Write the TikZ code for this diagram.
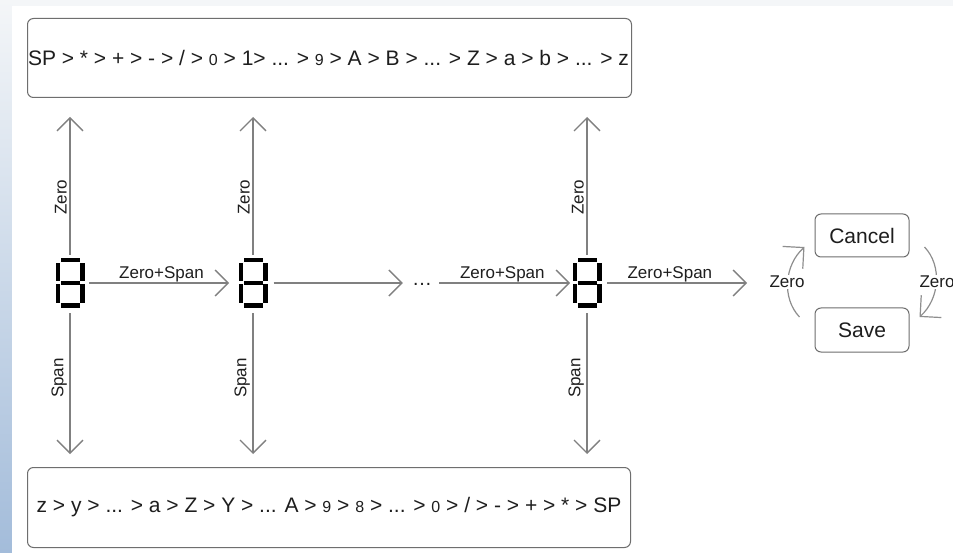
\documentclass[tikz,border=0pt]{standalone}
\usepackage{fontspec}
\setmainfont{Liberation Sans}
\usetikzlibrary{arrows.meta}
\definecolor{lc}{HTML}{808080}
\definecolor{bc}{HTML}{6E6E6E}
\definecolor{ac}{HTML}{8E8E8E}
\definecolor{tc}{HTML}{1E1E1E}
\definecolor{bgg}{HTML}{F4F6F8}
\definecolor{bgb}{HTML}{A3BCDA}
\newcommand\sdig[1]{{\fontsize{16}{16}\selectfont #1}}
\newcommand\segdigit[1]{%
  \begin{scope}[shift={(#1.north west)}]
    \fill[black] (5,0) rectangle (24,-4.5);
    \fill[black] (0,-5) rectangle (4.5,-23.5);
    \fill[black] (24.5,-5) rectangle (29,-23.5);
    \fill[black] (5,-23) rectangle (24,-27);
    \fill[black] (0,-26.5) rectangle (4.5,-45);
    \fill[black] (24.5,-26.5) rectangle (29,-45);
    \fill[black] (5,-45.5) rectangle (24,-50);
  \end{scope}}
\begin{document}
\begin{tikzpicture}[x=1pt,y=1pt,
  font=\fontsize{21}{24}\selectfont, text=tc,
  digit/.style={minimum width=29pt, minimum height=50pt, inner sep=0pt, outer sep=0pt},
  arr/.style={draw=lc, line width=1.3pt, -{Straight Barb[length=13pt,width=26pt]}},
  carr/.style={draw=ac, line width=1.2pt, -{Straight Barb[length=15pt,width=30pt]}},
  box/.style={draw=bc, line width=1pt, rounded corners=6pt, fill=white},
  lab/.style={font=\fontsize{17}{20}\selectfont, inner sep=0.5pt},
  vlab/.style={lab, rotate=90, anchor=south, inner sep=2.5pt}
]
\useasboundingbox (0,0) rectangle (953,-553);
% background
\fill[bgg] (0,0) rectangle (953,-553);
\shade[top color=bgg, bottom color=bgb] (0,0) rectangle (12,-553);
\fill[white] (12,-6) rectangle (953,-553);

% boxes
\node[box, anchor=north west, minimum height=79pt, inner xsep=0.5pt] (top) at (27,-18)
  {\makebox[603pt][l]{SP > * > + > - > / > \sdig{0} > 1> ... > \sdig{9} > A > B > ... > Z > a > b > ... > z}};
\node[box, anchor=north west, minimum height=80pt, minimum width=603pt] (bot) at (27,-467)
  {z > y > ... > a > Z > Y > ... A > \sdig{9} > \sdig{8} > ... > \sdig{0} > / > - > + > * > SP};

% digits
\node[digit] (d1) at (70,-283) {};
\node[digit] (d2) at (253,-283) {};
\node[digit] (d3) at (587,-283) {};
\segdigit{d1}
\segdigit{d2}
\segdigit{d3}
\node[inner sep=0pt, anchor=base] (dots) at (422,-286) {\fontsize{20}{20}\selectfont …};
\coordinate (hend) at (747,-283);

% horizontal arrows
\draw[arr, shorten <=4.5pt, shorten >=9.5pt] (d1.east) -- node[lab, above]{Zero+Span} (d2.west);
\draw[arr, shorten <=6pt, shorten >=9pt] (d2.east) -- (d2.east -| dots.west);
\draw[arr, shorten <=7pt, shorten >=2.5pt] (dots.east |- d3.west) -- node[lab, above]{Zero+Span} (d3.west);
\draw[arr, shorten <=5.5pt] (d3.east) -- node[lab, above, pos=0.47]{Zero+Span} (hend);

% vertical arrows
\foreach \d in {d1,d2,d3}{
  \draw[arr, shorten <=3pt, shorten >=19pt] (\d.north) -- node[vlab, pos=0.38]{Zero} (\d.north |- top.south);
  \draw[arr, shorten <=5.5pt, shorten >=13pt] (\d.south) -- node[vlab, pos=0.44]{Span} (\d.south |- bot.north);
}

% Cancel / Save
\node[box, minimum width=94pt, minimum height=43pt, inner sep=0pt] (cancel) at (862,-235.5) {Cancel};
\node[box, minimum width=94pt, minimum height=44pt, inner sep=0pt] (save) at (862,-330) {Save};
\coordinate (la1) at ([shift={(-15,13)}]save.west);
\coordinate (la2) at ([shift={(-10,-11.5)}]cancel.west);
\coordinate (ra1) at ([shift={(15,-11.5)}]cancel.east);
\coordinate (ra2) at ([shift={(10,13)}]save.east);
\draw[carr] (la1) .. controls +(-18,19) and +(-20,-18) .. (la2);
\draw[carr] (ra1) .. controls +(18,-19) and +(20,18) .. (ra2);
\node[lab, fill=white, inner sep=1.5pt] (zl) at (787,-282) {Zero};
\node[lab, fill=white, inner sep=1.5pt] (zr) at (937,-282) {Zero};
\end{tikzpicture}
\end{document}
